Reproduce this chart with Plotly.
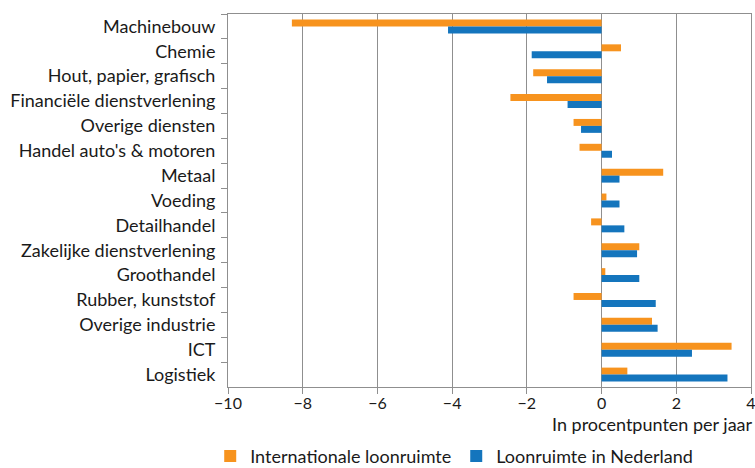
import plotly.graph_objects as go

categories = ["Machinebouw", "Chemie", "Hout, papier, grafisch", "Financiële dienstverlening",
              "Overige diensten", "Handel auto's & motoren", "Metaal", "Voeding", "Detailhandel",
              "Zakelijke dienstverlening", "Groothandel", "Rubber, kunststof", "Overige industrie",
              "ICT", "Logistiek"]
internationaal = [-8.29, 0.52, -1.83, -2.44, -0.75, -0.59, 1.65, 0.13, -0.28, 1.01, 0.10, -0.75, 1.35, 3.48, 0.69]
nederland = [-4.11, -1.87, -1.46, -0.91, -0.55, 0.28, 0.48, 0.48, 0.61, 0.95, 1.01, 1.45, 1.50, 2.42, 3.37]
x_ticks = [-10, -8, -6, -4, -2, 0, 2, 4]

ORANGE = "#F7931E"
BLUE = "#1475BD"
GRID = "#8f8f8f"
FONT = "Lato"

fig = go.Figure()
fig.add_trace(go.Bar(y=categories, x=internationaal, orientation="h", name="Internationale loonruimte",
                     marker=dict(color=ORANGE, line=dict(width=0))))
fig.add_trace(go.Bar(y=categories, x=nederland, orientation="h", name="Loonruimte in Nederland",
                     marker=dict(color=BLUE, line=dict(width=0))))

fig.update_layout(
    width=755, height=468,
    margin=dict(l=227.5, r=4, t=14, b=81, autoexpand=False),
    barmode="group", bargap=0.44, bargroupgap=0,
    plot_bgcolor="white", paper_bgcolor="white",
    font=dict(family=FONT, size=18, color="#1a1a1a"),
    showlegend=True,
    legend=dict(orientation="h", x=-0.034, xanchor="left", y=-0.186, yanchor="middle",
                font=dict(size=18), itemwidth=30, traceorder="normal"),
)
fig.update_xaxes(range=[-10, 4], tickvals=x_ticks, showgrid=True, gridcolor=GRID, gridwidth=1,
                 zeroline=True, zerolinecolor=GRID, zerolinewidth=1,
                 showline=True, mirror=True, linecolor=GRID, linewidth=1,
                 ticks="outside", ticklen=6, tickcolor=GRID, tickfont=dict(size=16),
                 ticklabelstandoff=-4, ticklabeloverflow="allow")
fig.update_yaxes(categoryorder="array", categoryarray=categories, autorange="reversed",
                 showline=True, mirror=True, linecolor=GRID, linewidth=1, ticks="outside",
                 tickson="boundaries", ticklen=6, tickcolor=GRID, showgrid=False,
                 tickfont=dict(size=18), ticklabelstandoff=8)
fig.add_annotation(text="In procentpunten per jaar", xref="paper", yref="paper", x=1.0 + 4 / 523.5,
                   y=-0.0992, xanchor="right", yanchor="middle", showarrow=False, font=dict(size=18))

fig.write_html("out.html", config={"displayModeBar": False},
               post_script="document.body.style.margin='0px';")
